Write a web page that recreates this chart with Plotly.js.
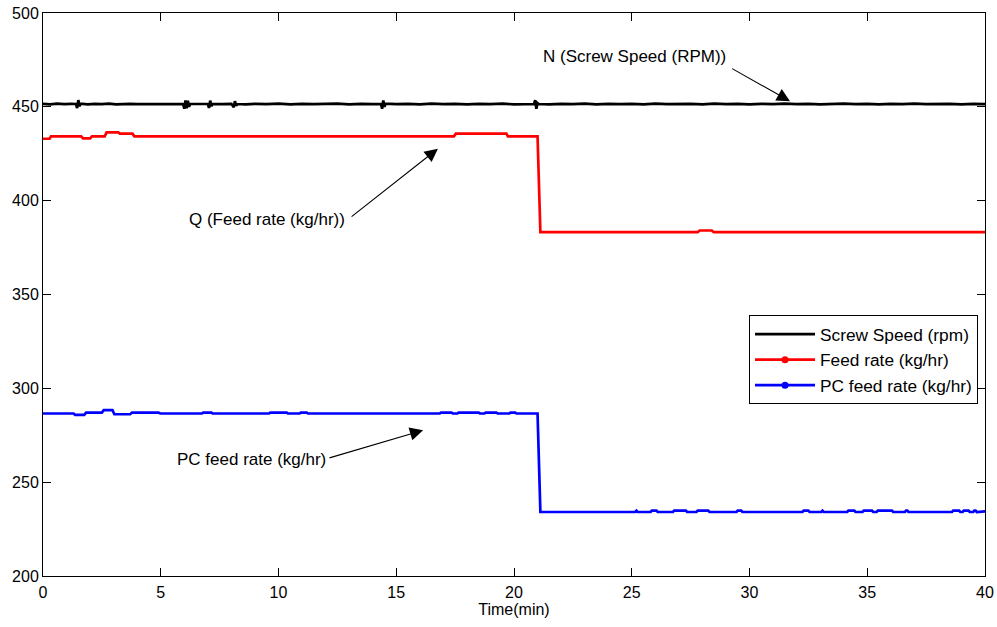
<!DOCTYPE html>
<html>
<head>
<meta charset="utf-8">
<script src="https://cdn.plot.ly/plotly-3.0.1.min.js"></script>
<style>
  html, body { margin: 0; padding: 0; background: #ffffff; }
  #chart { width: 997px; height: 627px; }
</style>
</head>
<body>
<div id="chart"></div>
<script>
// Extruder run log: screw speed and feed rates over a 40 minute run.
// Each series is a list of [time (min), value] samples.

const screwSpeed = [
  [0, 451.6], [0.3, 451.3], [0.6, 451.7], [0.9, 451.4], [1.2, 451.6], [1.4, 451.5],
  [1.45, 449.3], [1.5, 453.6], [1.55, 450.3], [1.6, 451.7], [1.9, 451.3], [2.2, 451.6],
  [2.5, 451.4], [2.8, 451.7], [3.1, 451.3], [3.4, 451.5], [3.7, 451.6], [4.0, 451.4],
  [4.5, 451.5], [5.0, 451.6], [5.5, 451.4], [5.95, 451.5], [6.0, 449.0], [6.05, 453.4],
  [6.1, 449.2], [6.15, 453.2], [6.2, 450.0], [6.25, 451.5], [6.6, 451.5], [7.0, 451.5],
  [7.05, 449.4], [7.1, 453.3], [7.15, 450.3], [7.2, 451.6], [7.6, 451.4], [8.0, 451.6],
  [8.1, 449.8], [8.15, 453.0], [8.2, 450.6], [8.25, 451.5], [8.6, 451.3], [9.0, 451.6],
  [9.5, 451.4], [10.0, 451.7], [10.5, 451.3], [11.0, 451.6], [11.5, 451.4], [12.0, 451.5],
  [12.5, 451.7], [13.0, 451.3], [13.5, 451.6], [14.0, 451.4], [14.35, 451.5], [14.4, 449.0],
  [14.45, 453.4], [14.5, 450.0], [14.55, 451.7], [15.0, 451.4], [15.5, 451.6], [16.0, 451.3],
  [16.5, 451.7], [17.0, 451.4], [17.5, 451.6], [18.0, 451.3], [18.5, 451.6], [19.0, 451.4],
  [19.5, 451.7], [20.0, 451.3], [20.5, 451.6], [20.85, 451.5], [20.9, 453.6], [20.95, 449.0],
  [21.0, 452.0], [21.05, 451.5], [21.5, 451.3], [22.0, 451.6], [22.5, 451.4], [23.0, 451.7],
  [23.5, 451.3], [24.0, 451.6], [24.5, 451.4], [25.0, 451.6], [25.5, 451.3], [26.0, 451.7],
  [26.5, 451.4], [27.0, 451.5], [27.5, 451.6], [28.0, 451.3], [28.5, 451.7], [29.0, 451.4],
  [29.5, 451.6], [30.0, 451.3], [30.5, 451.6], [31.0, 451.4], [31.5, 451.7], [32.0, 451.4],
  [32.5, 451.6], [33.0, 451.3], [33.5, 451.5], [34.0, 451.7], [34.5, 451.4], [35.0, 451.6],
  [35.5, 451.3], [36.0, 451.6], [36.5, 451.4], [37.0, 451.7], [37.5, 451.4], [38.0, 451.5],
  [38.5, 451.6], [39.0, 451.3], [39.5, 451.6], [40.0, 451.4]
];

const feedRate = [
  [0, 433.0], [0.28, 433.0], [0.34, 434.3], [1.62, 434.3], [1.7, 433.2], [2.0, 433.2],
  [2.08, 434.3], [2.62, 434.3], [2.7, 436.4], [3.2, 436.4], [3.26, 435.7], [3.8, 435.7],
  [3.88, 434.3], [17.45, 434.3], [17.53, 435.7], [19.68, 435.7], [19.74, 434.3], [21.0, 434.3],
  [21.12, 383.2], [27.8, 383.2], [27.88, 384.1], [28.4, 384.1], [28.48, 383.2], [40, 383.2]
];

const pcFeedRate = [
  [0, 286.6], [1.3, 286.6], [1.36, 285.9], [1.75, 285.9], [1.83, 287.1], [2.5, 287.1],
  [2.58, 288.4], [2.95, 288.4], [3.03, 286.2], [3.7, 286.2], [3.78, 287.1], [4.9, 287.1],
  [4.98, 286.6], [5.45, 286.6], [5.5, 287.0], [5.55, 286.6], [6.75, 286.6], [6.8, 287.1],
  [7.15, 287.1], [7.2, 286.6], [8.1, 286.6], [8.15, 287.0], [8.2, 286.6], [9.6, 286.6],
  [9.65, 287.1], [10.35, 287.1], [10.4, 286.6], [10.9, 286.6], [10.95, 287.1], [11.2, 287.1],
  [11.25, 286.6], [12.25, 286.6], [12.3, 287.0], [12.35, 286.6], [16.85, 286.6], [16.9, 287.1],
  [17.35, 287.1], [17.4, 286.6], [17.6, 286.6], [17.65, 287.1], [18.5, 287.1], [18.55, 286.6],
  [18.75, 286.6], [18.8, 287.1], [19.25, 287.1], [19.3, 286.6], [19.8, 286.6], [19.85, 287.1],
  [20.05, 287.1], [20.1, 286.6], [21.0, 286.6], [21.12, 234.1],
  [25.15, 234.1], [25.2, 234.8], [25.25, 234.1],
  [25.8, 234.1], [25.85, 234.8], [26.05, 234.8], [26.1, 234.1],
  [26.75, 234.1], [26.8, 234.8], [27.3, 234.8], [27.35, 234.1],
  [27.75, 234.1], [27.8, 234.8], [28.25, 234.8], [28.3, 234.1],
  [29.45, 234.1], [29.5, 234.8], [29.65, 234.8], [29.7, 234.1],
  [32.25, 234.1], [32.3, 234.8], [32.5, 234.8], [32.55, 234.1],
  [33.05, 234.1], [33.1, 234.8], [33.15, 234.1],
  [34.15, 234.1], [34.2, 234.8], [34.45, 234.8], [34.5, 234.1],
  [34.8, 234.1], [34.85, 234.8], [35.2, 234.8], [35.25, 234.1],
  [35.4, 234.1], [35.45, 234.8], [36.05, 234.8], [36.1, 234.1],
  [36.6, 234.1], [36.65, 234.8], [36.7, 234.8], [36.75, 234.1],
  [38.6, 234.1], [38.65, 234.8], [38.9, 234.8], [38.95, 234.1],
  [39.05, 234.1], [39.1, 234.8], [39.3, 234.8], [39.35, 234.1],
  [39.5, 234.1], [39.55, 234.8], [39.6, 234.8], [39.65, 234.1], [40, 234.4]
];

const legendNames = ['Screw Speed (rpm)', 'Feed rate (kg/hr)', 'PC feed rate (kg/hr)'];
const xTicks = [0, 5, 10, 15, 20, 25, 30, 35, 40];
const yTicks = [200, 250, 300, 350, 400, 450, 500];

const FONT = '"Liberation Sans", Arial, Helvetica, sans-serif';
const colors = ['#000000', '#ff0000', '#0000ff'];

function line(samples, color) {
  return {
    x: samples.map(p => p[0]),
    y: samples.map(p => p[1]),
    type: 'scatter', mode: 'lines',
    line: { color: color, width: 2.7 },
    showlegend: false, hoverinfo: 'skip'
  };
}

// legend-only entries (the feed rate keys carry a dot marker)
function key(name, color, withDot) {
  return {
    x: [null], y: [null], type: 'scatter', name: name,
    mode: withDot ? 'lines+markers' : 'lines',
    line: { color: color, width: 2.7 },
    marker: { color: color, size: 7 },
    hoverinfo: 'skip'
  };
}

const data = [
  line(screwSpeed, colors[0]),
  line(feedRate, colors[1]),
  line(pcFeedRate, colors[2]),
  key(legendNames[0], colors[0], false),
  key(legendNames[1], colors[1], true),
  key(legendNames[2], colors[2], true)
];

const arrowStyle = {
  text: '', showarrow: true, arrowhead: 2, arrowsize: 2.4, arrowwidth: 1.1,
  arrowcolor: '#000000', axref: 'x', ayref: 'y', xref: 'x', yref: 'y', standoff: 0
};
const labelStyle = {
  showarrow: false, xref: 'x', yref: 'y', xanchor: 'right', yanchor: 'middle',
  font: { family: FONT, size: 17, color: '#000000' }
};

const annotations = [
  Object.assign({}, arrowStyle, { x: 31.72, y: 453.0, ax: 29.2, ay: 470.8 }),
  Object.assign({}, arrowStyle, { x: 16.77, y: 427.7, ax: 13.04, ay: 390.9 }),
  Object.assign({}, arrowStyle, { x: 16.14, y: 277.7, ax: 12.1, ay: 262.7 }),
  Object.assign({}, labelStyle, { x: 29.1, y: 476.8, text: 'N (Screw Speed (RPM))' }),
  Object.assign({}, labelStyle, { x: 12.9, y: 389.8, text: 'Q (Feed rate (kg/hr))' }),
  Object.assign({}, labelStyle, { x: 12.1, y: 262.2, text: 'PC feed rate (kg/hr)' })
];

const axisBase = {
  showline: true, linecolor: '#000000', linewidth: 1, mirror: 'ticks',
  ticks: 'inside', ticklen: 8, tickwidth: 1, tickcolor: '#000000',
  showgrid: false, zeroline: false, fixedrange: true,
  tickfont: { family: FONT, size: 16, color: '#000000' }
};

const layout = {
  width: 997, height: 627,
  margin: { l: 43, r: 12, t: 13, b: 51 },
  paper_bgcolor: '#ffffff', plot_bgcolor: '#ffffff',
  font: { family: FONT, size: 16, color: '#000000' },
  xaxis: Object.assign({}, axisBase, {
    range: [0, 40], tickmode: 'array', tickvals: xTicks, ticklabelstandoff: 2,
    title: { text: 'Time(min)', font: { family: FONT, size: 16, color: '#000000' }, standoff: 3 }
  }),
  yaxis: Object.assign({}, axisBase, {
    range: [200, 500], tickmode: 'array', tickvals: yTicks
  }),
  legend: {
    x: 0.7495, y: 0.4628, xanchor: 'left', yanchor: 'top',
    bgcolor: '#ffffff', bordercolor: '#000000', borderwidth: 1,
    font: { family: FONT, size: 17.3, color: '#000000' },
    itemwidth: 60, tracegroupgap: 0
  },
  annotations: annotations,
  showlegend: true
};

Plotly.newPlot('chart', data, layout, { displayModeBar: false, staticPlot: true });
</script>
</body>
</html>
